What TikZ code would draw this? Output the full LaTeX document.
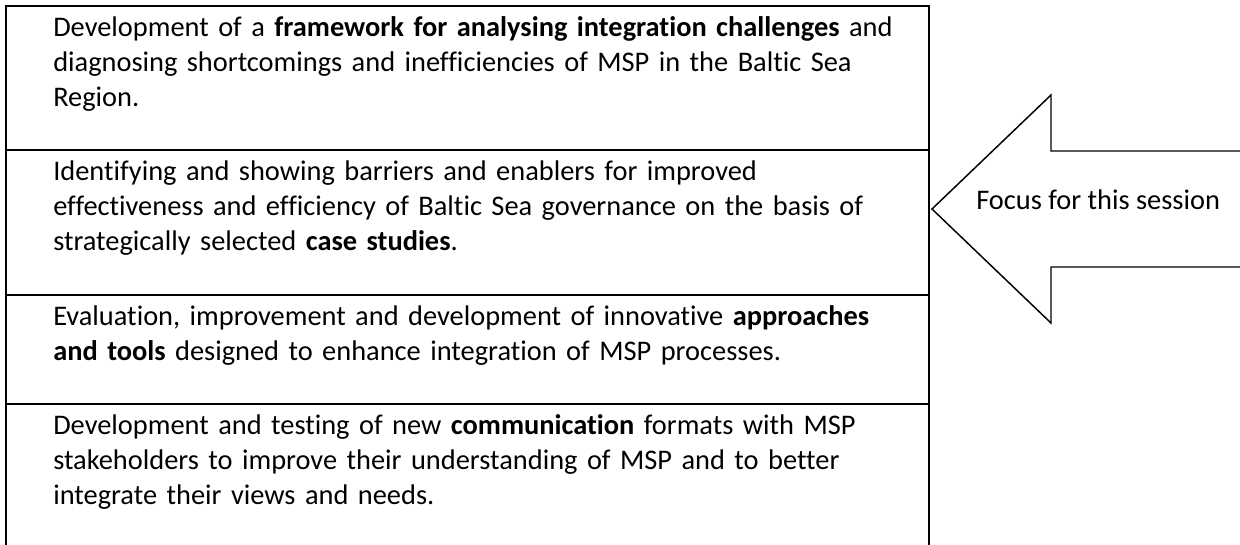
\documentclass[tikz,border=0pt]{standalone}
\usepackage{fontspec}
\setmainfont[Ligatures=NoCommon]{Carlito}
\usepackage{tikz}
\usetikzlibrary{positioning}
\newcommand{\widthcell}{692.25pt}
\newcommand{\bodyfont}{\fontsize{21.3}{26.25}\selectfont}
\tikzset{
    cell/.style={draw, rectangle, anchor=north west, minimum width=\widthcell, inner sep=0pt, line width=1.5pt},
    item/.style={anchor=north west, inner sep=0pt, text width=670pt, align=left, font=\bodyfont},
    focusline/.style={line width=1.1pt, line join=miter},
}

\begin{document}
\begin{tikzpicture}[x=0.75pt, y=-0.75pt]
    \useasboundingbox (0,0) rectangle (1240,544);

    \path
        (5,5) node[cell, minimum height=108pt] (aim-1) {}
        +(48,6.5) node[item] (text-1) {\strut Development of a \textbf{framework for analysing integration challenges} and\\ diagnosing shortcomings and inefficiencies of MSP in the Baltic Sea\\ Region.}
        ++(0,144) node[cell, minimum height=108.75pt] (aim-2) {}
        +(48,6.5) node[item] (text-2) {\strut Identifying and showing barriers and enablers for improved\\ effectiveness and efficiency of Baltic Sea governance on the basis of\\ strategically selected \textbf{case studies}.}
        ++(0,145) node[cell, minimum height=81.75pt] (aim-3) {}
        +(48,6.5) node[item] (text-3) {\strut Evaluation, improvement and development of innovative \textbf{approaches}\\ \textbf{and tools} designed to enhance integration of MSP processes.}
        ++(0,109) node[cell, minimum height=108.75pt] (aim-4) {}
        +(48,6.5) node[item] (text-4) {\strut Development and testing of new \textbf{communication} formats with MSP\\ stakeholders to improve their understanding of MSP and to better\\ integrate their views and needs.};

    \path
        (932,209) coordinate (tip)
        +(119,-114) coordinate (head-top)
        +(119,114) coordinate (head-bottom)
        +(119,-58) coordinate (shaft-top)
        +(119,58) coordinate (shaft-bottom)
        +(308,-58) coordinate (shaft-top-end)
        +(308,58) coordinate (shaft-bottom-end)
        +(44,0) node[anchor=base west, inner sep=0pt, font=\bodyfont] (focus) {Focus for this session};

    \draw[focusline] (shaft-top-end) -- (shaft-top) -- (head-top) -- (tip) -- (head-bottom) -- (shaft-bottom) -- (shaft-bottom-end);
\end{tikzpicture}
\end{document}
